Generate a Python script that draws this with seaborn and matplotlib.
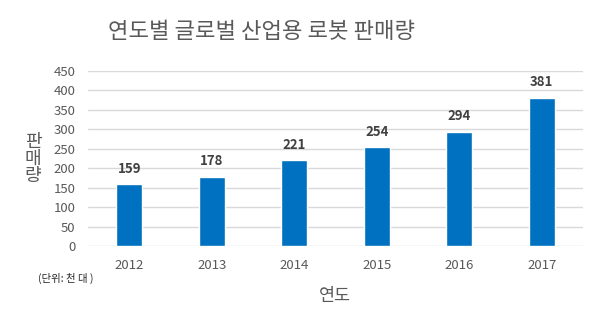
import matplotlib
matplotlib.use("Agg")
import matplotlib.pyplot as plt
import seaborn as sns
import pandas as pd

years = ["2012", "2013", "2014", "2015", "2016", "2017"]
sales = [159, 178, 221, 254, 294, 381]
yticks = [0, 50, 100, 150, 200, 250, 300, 350, 400, 450]

sns.set_theme(style="white")
plt.rcParams['font.family'] = ['Noto Sans CJK KR', 'DejaVu Sans']

df = pd.DataFrame({"year": years, "sales": sales})

fig = plt.figure(figsize=(6.0, 3.27), dpi=100)
ax = fig.add_axes([0.1467, 0.2477, 0.825, 0.5352])

sns.barplot(data=df, x="year", y="sales", color="#0070C0", width=0.32,
            saturation=1, ax=ax, zorder=3)

ax.set_ylim(0, 450)
ax.set_yticks(yticks)
ax.grid(axis="y", color="#D9D9D9", linewidth=1, zorder=0)
for s in ax.spines.values():
    s.set_visible(False)
ax.tick_params(axis="both", length=0, colors="#595959", labelsize=9.5)
ax.tick_params(axis="y", pad=9)
ax.tick_params(axis="x", pad=9)
ax.set_xlabel("")
ax.set_ylabel("")

for i, v in enumerate(sales):
    ax.annotate(str(v), (i, v), xytext=(0, 6), textcoords="offset points",
                ha="center", va="bottom", fontsize=9.5, fontweight="bold",
                color="#404040")

fig.text(0.435, 0.905, "연도별 글로벌 산업용 로봇 판매량", ha="center", va="center",
         fontsize=16, color="#595959")
fig.text(0.055, 0.514, "판\n매\n량", ha="center", va="center", fontsize=13,
         color="#595959", linespacing=0.95)
fig.text(0.558, 0.095, "연도", ha="center", va="center", fontsize=12.5,
         color="#595959")
fig.text(0.063, 0.15, "(단위: 천 대 )", ha="left", va="center", fontsize=7.5,
         color="#262626")

fig.savefig("out.png", dpi=100)
